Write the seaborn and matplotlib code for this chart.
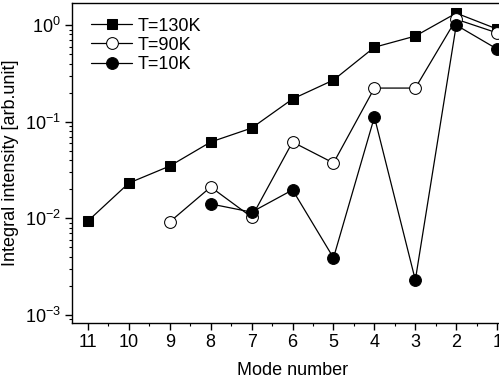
import numpy as np
import pandas as pd
import matplotlib
matplotlib.use('Agg')
import matplotlib.pyplot as plt
import seaborn as sns
from matplotlib.ticker import LogLocator, MultipleLocator, NullFormatter

# values
modes_130 = [11, 10, 9, 8, 7, 6, 5, 4, 3, 2, 1]
t130 = [0.0094, 0.0232, 0.0348, 0.0617, 0.086, 0.172, 0.27, 0.59, 0.77, 1.33, 0.91]
modes_90 = [9, 8, 7, 6, 5, 4, 3, 2, 1]
t90 = [0.0092, 0.0211, 0.0103, 0.0617, 0.0374, 0.223, 0.223, 1.15, 0.83]
modes_10 = [8, 7, 6, 5, 4, 3, 2, 1]
t10 = [0.0141, 0.0116, 0.0197, 0.0039, 0.112, 0.0023, 1.0, 0.565]
x_ticks = list(range(1, 12))

sns.set_style('ticks', {'axes.edgecolor': 'black', 'text.color': 'black',
                        'xtick.color': 'black', 'ytick.color': 'black',
                        'axes.labelcolor': 'black'})
plt.rcParams['font.family'] = ['Liberation Sans', 'DejaVu Sans']
plt.rcParams['mathtext.fontset'] = 'custom'
plt.rcParams['mathtext.rm'] = 'Liberation Sans'
plt.rcParams['mathtext.default'] = 'regular'

fig = plt.figure(figsize=(4.99, 3.85), dpi=100)
ax = fig.add_axes([0.1443, 0.161, 0.884, 0.831])

#each series drawn as its own line with marker style
sns.lineplot(x=modes_130, y=t130, ax=ax, color='black', lw=0.9, marker='s', markersize=7.5,
             markerfacecolor='black', markeredgecolor='black', label='T=130K')
sns.lineplot(x=modes_90, y=t90, ax=ax, color='black', lw=0.9, marker='o', markersize=8.5,
             markerfacecolor='white', markeredgecolor='black', label='T=90K')
sns.lineplot(x=modes_10, y=t10, ax=ax, color='black', lw=0.9, marker='o', markersize=8.5,
             markerfacecolor='black', markeredgecolor='black', label='T=10K')

ax.set_yscale('log')
ax.set_ylim(8.26e-4, 1.69)
ax.set_xlim(11.39, 0.61)
ax.set_xticks(x_ticks)
ax.xaxis.set_minor_locator(MultipleLocator(0.5))
ax.yaxis.set_minor_locator(LogLocator(base=10, subs=np.arange(2, 10)))
ax.yaxis.set_minor_formatter(NullFormatter())

ax.tick_params(axis='both', which='major', direction='out', length=5, width=1, labelsize=13, pad=3)
ax.tick_params(axis='both', which='minor', direction='out', length=2.5, width=0.8)
for s in ax.spines.values():
    s.set_linewidth(1.0)

ax.set_xlabel('Mode number', fontsize=13, labelpad=8)
ax.set_ylabel('Integral intensity [arb.unit]', fontsize=13, labelpad=4)

ax.legend(loc='upper left', frameon=False, fontsize=13, handlelength=2.3,
          labelspacing=0.12, handletextpad=0.3, borderaxespad=0.4, bbox_to_anchor=(0.01, 1.0))

fig.savefig('out.png', dpi=100)
